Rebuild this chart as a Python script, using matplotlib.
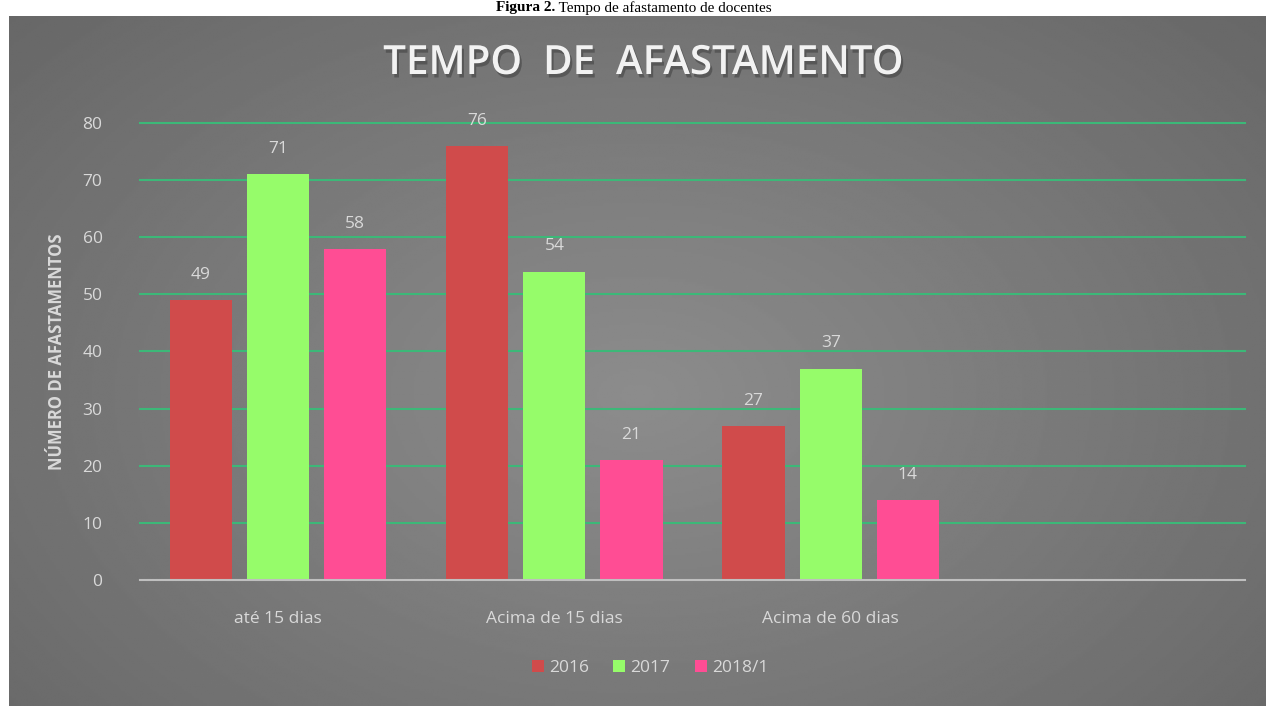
import numpy as np
import matplotlib
matplotlib.use("Agg")
import matplotlib.pyplot as plt
from matplotlib.patches import Patch
import matplotlib.patheffects as pe

categories = ["até 15 dias", "Acima de 15 dias", "Acima de 60 dias"]
series_names = ["2016", "2017", "2018/1"]
v2016 = [49, 76, 27]
v2017 = [71, 54, 37]
v2018 = [58, 21, 14]
yticks = [0, 10, 20, 30, 40, 50, 60, 70, 80]

colors = ["#d04b4b", "#96fc6a", "#ff4d94"]
txt = "#d9d9d9"

W, H = 1266, 706
fig = plt.figure(figsize=(W / 100, H / 100), dpi=100)
fig.patch.set_facecolor("white")

# panel with radial gradient
bg = fig.add_axes([9 / W, 0, 1 - 9 / W, (H - 16) / H])
yy, xx = np.mgrid[0:1:300j, 0:1:600j]
r = np.sqrt(((xx - 0.5) / 0.75) ** 2 + ((yy - 0.55) / 0.9) ** 2)
grad = 0.55 - 0.16 * np.clip(r, 0, 1)
bg.imshow(grad, cmap="gray", vmin=0, vmax=1, aspect="auto", extent=[0, 1, 0, 1])
bg.set_axis_off()

# caption above the panel
t1 = fig.text(0.5, 1 - 1 / H, "Figura 2.", ha="right", va="top",
              fontsize=11, family="Liberation Serif", weight="bold")
t2 = fig.text(0.5, 1 - 1 / H, " Tempo de afastamento de docentes", ha="left",
              va="top", fontsize=11, family="Liberation Serif")
fig.canvas.draw()
rend = fig.canvas.get_renderer()
w1 = t1.get_window_extent(rend).width
w2 = t2.get_window_extent(rend).width
shift = (w1 - w2) / 2 / W
t1.set_x(634 / W + shift)
t2.set_x(634 / W + shift)

ax = fig.add_axes([140 / W, (H - 580) / H, 1105 / W, (580 - 123) / H])
ax.set_facecolor("none")
x = np.arange(len(categories))
bw = 0.225
step = 0.279
for i, (name, vals) in enumerate(zip(series_names, [v2016, v2017, v2018])):
    pos = x + (i - 1) * step
    ax.bar(pos, vals, width=bw, color=colors[i], zorder=3, label=name)
    for p, v in zip(pos, vals):
        ax.text(p, v + 3.0, str(v), ha="center", va="bottom", fontsize=12.5,
                color=txt, family="Open Sans", zorder=4)

ax.set_xlim(-0.5, 3.5)
ax.set_ylim(0, 80)
ax.set_yticks(yticks)
ax.set_xticks(x)
ax.set_xticklabels(categories)
for s in ax.spines.values():
    s.set_visible(False)
ax.axhline(0, color="#bfbfbf", lw=1.5, zorder=4, clip_on=False)
for t in yticks[1:]:
    ax.axhline(t, color="#3cb878", lw=1.5, zorder=1, clip_on=False)
ax.tick_params(axis="both", length=0, colors=txt, labelsize=12.5)
ax.tick_params(axis="y", pad=27)
ax.tick_params(axis="x", pad=22)
for lab in ax.get_xticklabels() + ax.get_yticklabels():
    lab.set_family("Open Sans")

ax.set_ylabel("NÚMERO DE AFASTAMENTOS", color=txt, fontsize=12,
              weight="bold", family="Open Sans", labelpad=12)

fig.text(643 / W, 1 - 64 / H, "TEMPO  DE  AFASTAMENTO", ha="center",
         va="center", fontsize=29, weight="semibold", color="#f2f2f2",
         family="Open Sans",
         path_effects=[pe.withSimplePatchShadow(offset=(1.5, -2.5),
                                                shadow_rgbFace="#3a3a3a",
                                                alpha=0.5)])

handles = [Patch(facecolor=c, label=n) for c, n in zip(colors, series_names)]
leg = fig.legend(handles=handles, loc="center", bbox_to_anchor=(650 / W, 1 - 668 / H),
                 ncol=3, frameon=False, fontsize=12.5, handlelength=0.7,
                 handleheight=0.7, handletextpad=0.3, columnspacing=1.4)
for t in leg.get_texts():
    t.set_color(txt)
    t.set_family("Open Sans")

fig.savefig("out.png", dpi=100)
